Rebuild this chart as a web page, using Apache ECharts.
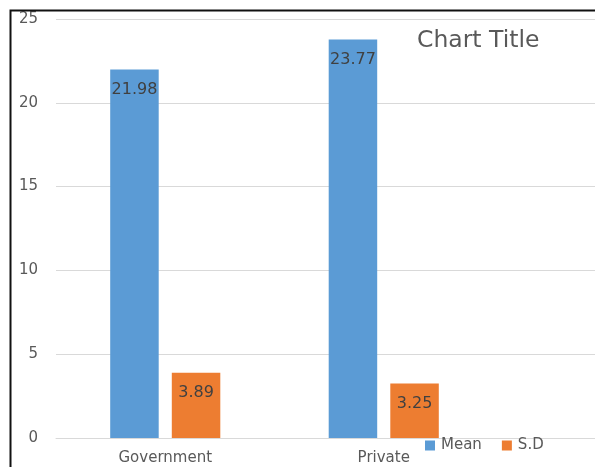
<!DOCTYPE html>
<html>
<head>
<meta charset="utf-8">
<script src="https://cdn.jsdelivr.net/npm/echarts@6/dist/echarts.min.js"></script>
<style>
html,body{margin:0;padding:0;background:#fff;}
#chart{width:595px;height:467px;}
</style>
</head>
<body>
<div id="chart"></div>
<script>
const categories = ['Government', 'Private'];
const meanValues = [21.98, 23.77];
const sdValues = [3.89, 3.25];
const seriesNames = ['Mean', 'S.D'];
const yTicks = { min: 0, max: 25, interval: 5 };
const titleText = 'Chart Title';

const FONT = '"DejaVu Sans", "Open Sans", sans-serif';
const chart = echarts.init(document.getElementById('chart'), null, { renderer: 'canvas' });

const labelStyle = {
  show: true,
  position: 'insideTop',
  distance: 12,
  color: '#404040',
  fontSize: 16,
  fontFamily: FONT
};

chart.setOption({
  animation: false,
  backgroundColor: '#ffffff',
  title: {
    text: titleText,
    left: 412,
    top: 24,
    textStyle: { color: '#595959', fontSize: 23.5, fontWeight: 'normal', fontFamily: FONT }
  },
  legend: {
    data: seriesNames,
    left: 420,
    top: 433,
    itemWidth: 10,
    itemHeight: 10,
    itemGap: 20,
    icon: 'rect',
    textStyle: { color: '#595959', fontSize: 15, fontFamily: FONT, padding: [0, 0, 0, 1] }
  },
  grid: [
    { left: 56, right: 102, top: 19, bottom: 29, containLabel: false },
    { left: 493, right: 0, top: 19, bottom: 29, containLabel: false }
  ],
  xAxis: [
    {
      type: 'category',
      gridIndex: 0,
      data: categories,
      axisLine: { show: true, lineStyle: { color: '#d9d9d9', width: 1 } },
      axisTick: { show: false },
      axisLabel: { color: '#595959', fontSize: 15, fontFamily: FONT, margin: 13 }
    },
    {
      type: 'category',
      gridIndex: 1,
      data: [''],
      axisLine: { show: true, lineStyle: { color: '#d9d9d9', width: 1 } },
      axisTick: { show: false },
      axisLabel: { show: false }
    }
  ],
  yAxis: [
    {
      type: 'value',
      gridIndex: 0,
      min: yTicks.min,
      max: yTicks.max,
      interval: yTicks.interval,
      axisLine: { show: false },
      axisTick: { show: false },
      axisLabel: { color: '#595959', fontSize: 15, fontFamily: FONT, margin: 18 },
      splitLine: { show: true, lineStyle: { color: '#d9d9d9', width: 1 } }
    },
    {
      type: 'value',
      gridIndex: 1,
      min: yTicks.min,
      max: yTicks.max,
      interval: yTicks.interval,
      axisLine: { show: false },
      axisTick: { show: false },
      axisLabel: { show: false },
      splitLine: { show: true, lineStyle: { color: '#d9d9d9', width: 1 } }
    }
  ],
  series: [
    {
      name: seriesNames[0],
      type: 'bar',
      xAxisIndex: 0,
      yAxisIndex: 0,
      data: meanValues,
      barWidth: 48.5,
      barGap: '27%',
      itemStyle: { color: '#5b9bd5' },
      label: labelStyle
    },
    {
      name: seriesNames[1],
      type: 'bar',
      xAxisIndex: 0,
      yAxisIndex: 0,
      data: sdValues,
      barWidth: 48.5,
      barGap: '27%',
      itemStyle: { color: '#ed7d31' },
      label: labelStyle
    }
  ],
  graphic: [
    {
      type: 'polyline',
      shape: { points: [[10.5, 467], [10.5, 10.5], [595, 10.5]] },
      style: { stroke: '#111111', lineWidth: 2, fill: null },
      z: 100
    }
  ]
});
</script>
</body>
</html>
